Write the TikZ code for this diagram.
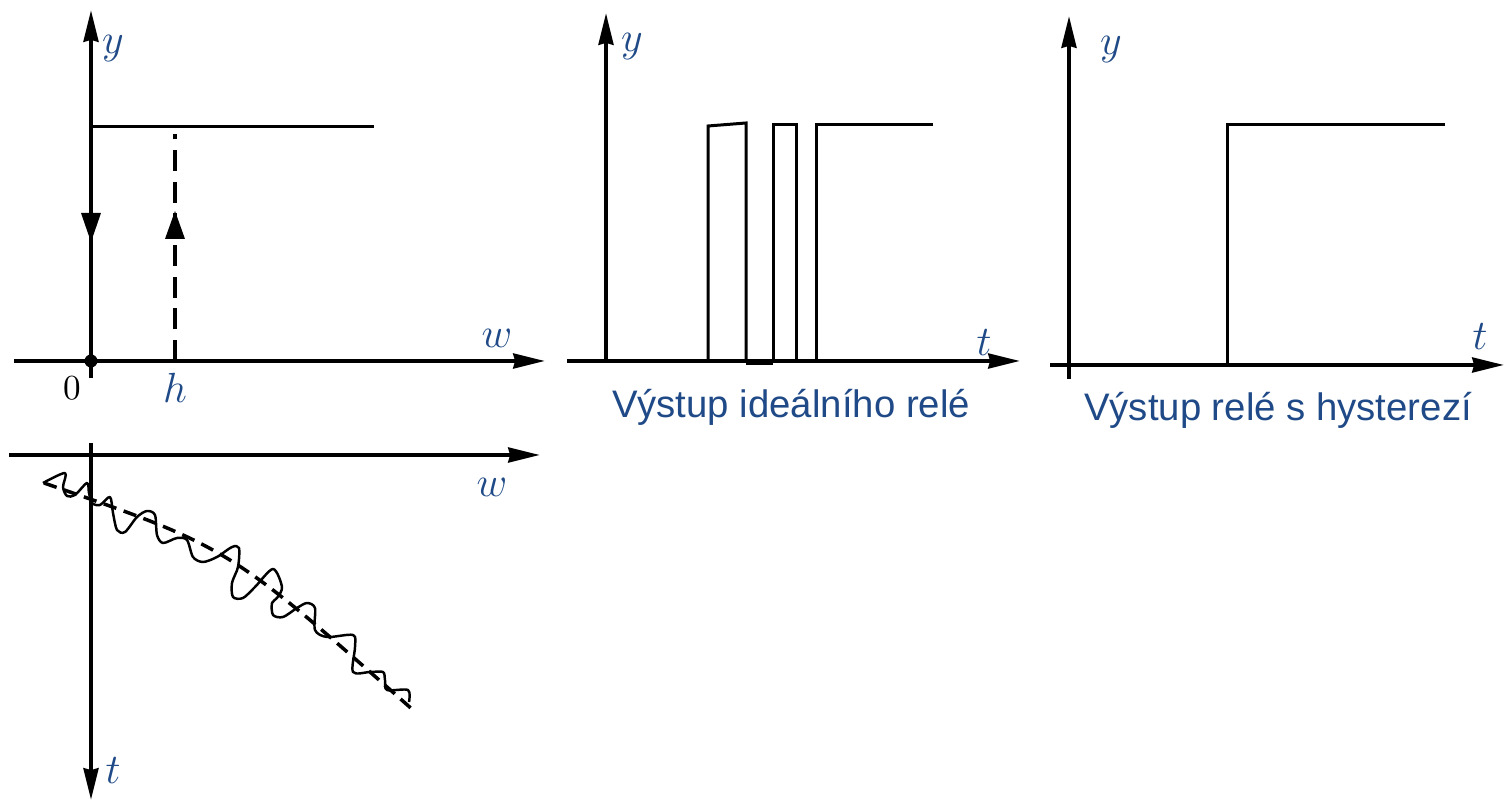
\documentclass[tikz,border=0pt]{standalone}
\usepackage{fontspec}
\newfontfamily\capfont{Liberation Sans}
\usetikzlibrary{arrows.meta}
\definecolor{lblblue}{RGB}{31,74,135}
\begin{document}
\begin{tikzpicture}[x=0.01cm,y=-0.01cm,
  axis/.style={line width=1.15pt,-{Stealth[length=9pt,width=4.2pt,inset=0.5pt]}},
  sig/.style={line width=0.85pt,line join=miter},
  dashsig/.style={line width=1.1pt,dash pattern=on 6pt off 3pt},
  lbl/.style={text=lblblue,font=\fontsize{11.5}{13}\selectfont,inner sep=0pt},
  captext/.style={text=lblblue,font=\capfont\fontsize{10.9}{13}\selectfont,inner sep=0pt,anchor=base},
  ]
\useasboundingbox (0,0) rectangle (1506,804);

% ---------- top-left: relay characteristic ----------
\coordinate (o1) at (91,361);
\coordinate (w1s) at (14,361);
\coordinate (w1e) at (545,361);
\coordinate (y1s) at (91,378);
\coordinate (y1e) at (91,10);
\coordinate (hl) at (91,127);
\coordinate (hr) at (374,127);
\coordinate (hb) at (175,361);
\coordinate (ht) at (175,134);
\draw[axis] (w1s) -- (w1e);
\draw[axis] (y1s) -- (y1e);
\draw[sig] (hl) -- (hr);
\draw[dashsig] (hb) -- (ht);
\fill (91,242) -- (81,213) -- (101,213) -- cycle;
\fill (175,211) -- (165,239) -- (185,239) -- cycle;
\fill (o1) circle (6.5);
\node[lbl] (ly1) at (113,49) {$y$};
\node[lbl] (lw1) at (497,338) {$w$};
\node[inner sep=0pt,font=\fontsize{10}{12}\selectfont] (l0) at (72,388) {$0$};
\node[lbl] (lh) at (175,388) {$h$};

% ---------- bottom-left: input signal ----------
\coordinate (w2s) at (9,455);
\coordinate (w2e) at (540,455);
\coordinate (t2s) at (91,443);
\coordinate (t2e) at (91,800);
\coordinate (ds) at (44,483);
\coordinate (dc) at (229,547);
\coordinate (de) at (413,710);
\draw[axis] (w2s) -- (w2e);
\draw[axis] (t2s) -- (t2e);
\draw[line width=1pt,dash pattern=on 3.8pt off 2.2pt] (ds) .. controls (dc) .. (de);
\draw[line width=0.7pt,line join=round] plot[smooth,tension=0.5] coordinates {
 (43,483) (65,473) (63,487) (67,496) (75,495) (87,483) (89,493) (92,503)
 (100,505) (110,497) (113,513) (117,530) (125,532) (137,517) (147,511)
 (155,515) (157,535) (163,543) (177,538) (187,540) (193,557) (203,562)
 (217,557) (232,547) (239,548) (238,567) (232,583) (233,597) (243,598)
 (255,587) (273,569) (282,587) (277,598) (272,603) (273,615) (283,617)
 (297,608) (307,603) (315,608) (315,630) (327,637) (353,635) (355,647)
 (353,672) (370,672) (383,672) (385,680) (387,690) (408,690) (409,702)};
\node[lbl] (lw2) at (492,487) {$w$};
\node[lbl] (lt2) at (113,771) {$t$};

% ---------- middle: ideal relay output ----------
\coordinate (t3s) at (567,361);
\coordinate (t3e) at (1020,361);
\coordinate (y3s) at (606,361);
\coordinate (y3e) at (606,13);
\draw[axis] (t3s) -- (t3e);
\draw[axis] (y3s) -- (y3e);
\draw[sig] (708,361) -- (708,126) -- (746,123) -- (746,363);
\draw[line width=1.4pt] (746,363) -- (773,363);
\draw[sig] (773,361) -- (773,125) -- (796,125) -- (796,361);
\draw[sig] (816,361) -- (816,125) -- (933,125);
\node[lbl] (ly3) at (632,47) {$y$};
\node[lbl] (lt3) at (984,343) {$t$};
\node[captext] (c3) at (791,418) {Výstup ideálního relé};

% ---------- right: relay with hysteresis output ----------
\coordinate (t4s) at (1050,365);
\coordinate (t4e) at (1504,365);
\coordinate (y4s) at (1069,379);
\coordinate (y4e) at (1069,16);
\draw[axis] (t4s) -- (t4e);
\draw[axis] (y4s) -- (y4e);
\draw[sig] (1227,365) -- (1227,125) -- (1445,125);
\node[lbl] (ly4) at (1111,50) {$y$};
\node[lbl] (lt4) at (1480,337) {$t$};
\node[captext] (c4) at (1278,421) {Výstup relé s hysterezí};
\end{tikzpicture}
\end{document}
